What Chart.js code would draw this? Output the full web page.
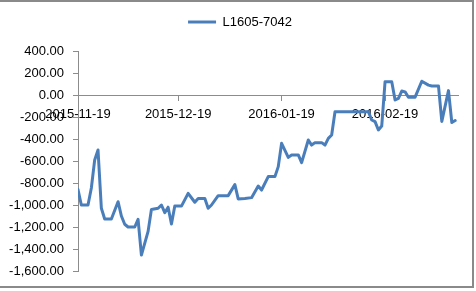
<!DOCTYPE html>
<html>
<head>
<meta charset="utf-8">
<script src="https://cdn.jsdelivr.net/npm/chart.js@4.4.1/dist/chart.umd.min.js"></script>
<style>
  html, body { margin: 0; padding: 0; background: #fff; }
  #wrap  { position: relative; width: 476px; height: 291px; overflow: hidden; }
  #frame { position: absolute; left: -2px; top: 0; width: 476px; height: 288px;
           border: 2px solid #8a8a8a; box-sizing: border-box; pointer-events: none; }
</style>
</head>
<body>
<div id="wrap">
  <canvas id="chart" width="476" height="291"></canvas>
  <div id="frame"></div>
</div>
<script>
// Series data
const seriesName = 'L1605-7042';
const dates = [
  '2015-11-19', '2015-11-20', '2015-11-22', '2015-11-23', '2015-11-24', '2015-11-25',
  '2015-11-26', '2015-11-27', '2015-11-29', '2015-12-01', '2015-12-02', '2015-12-03',
  '2015-12-04', '2015-12-06', '2015-12-07', '2015-12-08', '2015-12-10', '2015-12-11',
  '2015-12-13', '2015-12-14', '2015-12-15', '2015-12-16', '2015-12-17', '2015-12-18',
  '2015-12-20', '2015-12-22', '2015-12-24', '2015-12-25', '2015-12-27', '2015-12-28',
  '2015-12-29', '2015-12-31', '2016-01-03', '2016-01-05', '2016-01-06', '2016-01-08',
  '2016-01-10', '2016-01-12', '2016-01-13', '2016-01-15', '2016-01-17', '2016-01-18',
  '2016-01-19', '2016-01-21', '2016-01-22', '2016-01-24', '2016-01-25', '2016-01-27',
  '2016-01-28', '2016-01-29', '2016-01-31', '2016-02-01', '2016-02-02', '2016-02-03',
  '2016-02-04', '2016-02-14', '2016-02-15', '2016-02-16', '2016-02-17', '2016-02-18',
  '2016-02-19', '2016-02-21', '2016-02-22', '2016-02-23', '2016-02-24', '2016-02-25',
  '2016-02-26', '2016-02-28', '2016-03-01', '2016-03-03', '2016-03-04', '2016-03-06',
  '2016-03-07', '2016-03-09', '2016-03-10', '2016-03-11'
];
const values = [
  -860, -1000, -1000, -845, -590, -500,
  -1030, -1127, -1127, -970, -1100, -1175,
  -1200, -1200, -1130, -1455, -1240, -1040,
  -1030, -1000, -1070, -1020, -1173, -1010,
  -1010, -894, -975, -940, -940, -1030,
  -1000, -915, -915, -815, -945, -940,
  -933, -827, -864, -742, -742, -651,
  -439, -567, -545, -545, -615, -409,
  -455, -433, -433, -455, -394, -364,
  -152, -152, -227, -242, -318, -282,
  121, 121, -45, -30, 36, 28,
  -20, -20, 125, 90, 82, 82,
  -240, 40, -250, -232
];
const tickDates = ['2015-11-19', '2015-12-19', '2016-01-19', '2016-02-19'];
const axisEnd = '2016-03-12';
const yMin = -1600, yMax = 400, yStep = 200;

const DAY = 86400000;
const t0 = Date.parse(dates[0]);
const dayOf = s => Math.round((Date.parse(s) - t0) / DAY);

// 1234.5 -> "1,234.50"
function fmt(v) {
  const neg = v < 0;
  const [i, d] = Math.abs(v).toFixed(2).split('.');
  return (neg ? '-' : '') + i.replace(/\B(?=(\d{3})+(?!\d))/g, ',') + '.' + d;
}

const font  = { family: 'Liberation Sans', size: 13 };
const axisGrey = '#8c8c8c';
const lineBlue = '#4a7ebb';

// fixed legend band so the plot starts where the reference does,
// and centre the legend on the whole canvas, not just the plot width
const legendBand = {
  id: 'legendBand',
  beforeInit(chart) {
    const fit = chart.legend.fit;
    chart.legend.fit = function () { fit.call(this); this.height = 51; };
  },
  afterLayout(chart) {
    const lg = chart.legend;
    lg.left = 4;
    lg.right = chart.width;
    lg.width = lg.right - lg.left;
  }
};

new Chart(document.getElementById('chart'), {
  type: 'line',
  data: {
    datasets: [{
      label: seriesName,
      data: dates.map((d, i) => ({ x: dayOf(d), y: values[i] })),
      borderColor: lineBlue,
      backgroundColor: lineBlue,
      borderWidth: 3,
      borderJoinStyle: 'round',
      borderCapStyle: 'round',
      pointRadius: 0,
      tension: 0,
      fill: false,
    }],
  },
  options: {
    responsive: false,
    animation: false,
    devicePixelRatio: 1,
    layout: { padding: { left: 0, right: 17.5, top: 0, bottom: 20 } },
    plugins: {
      legend: {
        position: 'top',
        labels: {
          color: '#000',
          font,
          padding: 15.5,
          usePointStyle: true,
          pointStyle: 'line',
          pointStyleWidth: 28,
        },
      },
      tooltip: { enabled: false },
    },
    scales: {
      x: {
        type: 'linear',
        min: 0,
        max: dayOf(axisEnd),
        position: { y: 0 },
        afterBuildTicks: s => { s.ticks = tickDates.map(d => ({ value: dayOf(d) })); },
        ticks: {
          color: '#000',
          font,
          padding: 7,
          autoSkip: false,
          maxRotation: 0,
          callback: v => tickDates.find(d => dayOf(d) === v) ?? '',
        },
        grid: { drawOnChartArea: false, tickLength: 5, color: axisGrey },
        border: { color: axisGrey, width: 1 },
      },
      y: {
        min: yMin,
        max: yMax,
        afterFit: s => { s.width = 78; },
        ticks: { stepSize: yStep, color: '#000', font, padding: 9, callback: v => fmt(v) },
        grid: { drawOnChartArea: false, tickLength: 5, color: axisGrey },
        border: { color: axisGrey, width: 1 },
      },
    },
  },
  plugins: [legendBand],
});
</script>
</body>
</html>
